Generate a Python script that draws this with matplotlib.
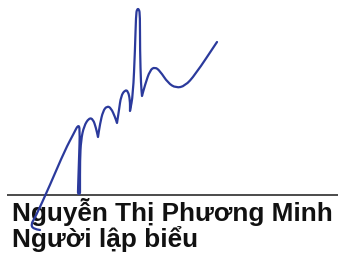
import matplotlib
matplotlib.use("Agg")
import matplotlib.pyplot as plt
from matplotlib.path import Path
from matplotlib.patches import PathPatch

plt.rcParams["font.family"] = ["Liberation Sans", "DejaVu Sans"]

# signature stroke, control points in image pixels (x right, y down);
# a repeated point makes a sharp turn (cusp)
SIG_X = [40, 33, 31, 35, 50, 65, 74, 78, 80, 79, 78, 78, 80, 80, 80, 81, 84, 89,
         93, 96, 98, 98, 100, 103, 107, 111, 115, 117, 117, 119, 121, 125, 128,
         130, 130, 130, 133, 135, 136, 137, 139, 140, 140, 141, 142, 142, 145, 150,
         155, 160, 168, 176, 185, 195, 217]
SIG_Y = [230, 229, 224, 218, 185, 150, 133, 125, 128, 160, 190, 194, 194, 190,
         160, 140, 126, 118, 119, 128, 137, 137, 124, 111, 106, 108, 117, 123, 123,
         110, 96, 90, 91, 100, 111, 111, 95, 50, 15, 9, 9, 15, 50, 85, 96, 96, 85,
         70, 67, 71, 83, 88, 86, 75, 42]

NAME = "Nguyễn Thị Phương Minh"
ROLE = "Người lập biểu"

W, H = 338, 257
fig = plt.figure(figsize=(W / 100, H / 100), dpi=100)
ax = fig.add_axes([0, 0, 1, 1])
ax.set_xlim(0, W); ax.set_ylim(H, 0); ax.axis("off")

# signature line
ax.plot([7, W], [195, 195], color="#1a1a1a", lw=1.1, solid_capstyle="butt", zorder=1)

# quadratic smoothing through midpoints of the control polygon
pts = list(zip(SIG_X, SIG_Y))
verts = [pts[0]]
codes = [Path.MOVETO]
for i in range(1, len(pts) - 1):
    mid = ((pts[i][0] + pts[i + 1][0]) / 2, (pts[i][1] + pts[i + 1][1]) / 2)
    verts += [pts[i], mid]
    codes += [Path.CURVE3, Path.CURVE3]
verts.append(pts[-1]); codes.append(Path.LINETO)
ax.add_patch(PathPatch(Path(verts, codes), facecolor="none", edgecolor="#2b3a9c",
                       lw=1.6, capstyle="round", joinstyle="round", zorder=3))

ax.text(12, 221, NAME, fontsize=18.85, fontweight="bold", color="#111111",
        ha="left", va="baseline", zorder=2)
ax.text(12, 247, ROLE, fontsize=18.85, fontweight="bold", color="#111111",
        ha="left", va="baseline", zorder=2)

fig.savefig("out.png", dpi=100)
